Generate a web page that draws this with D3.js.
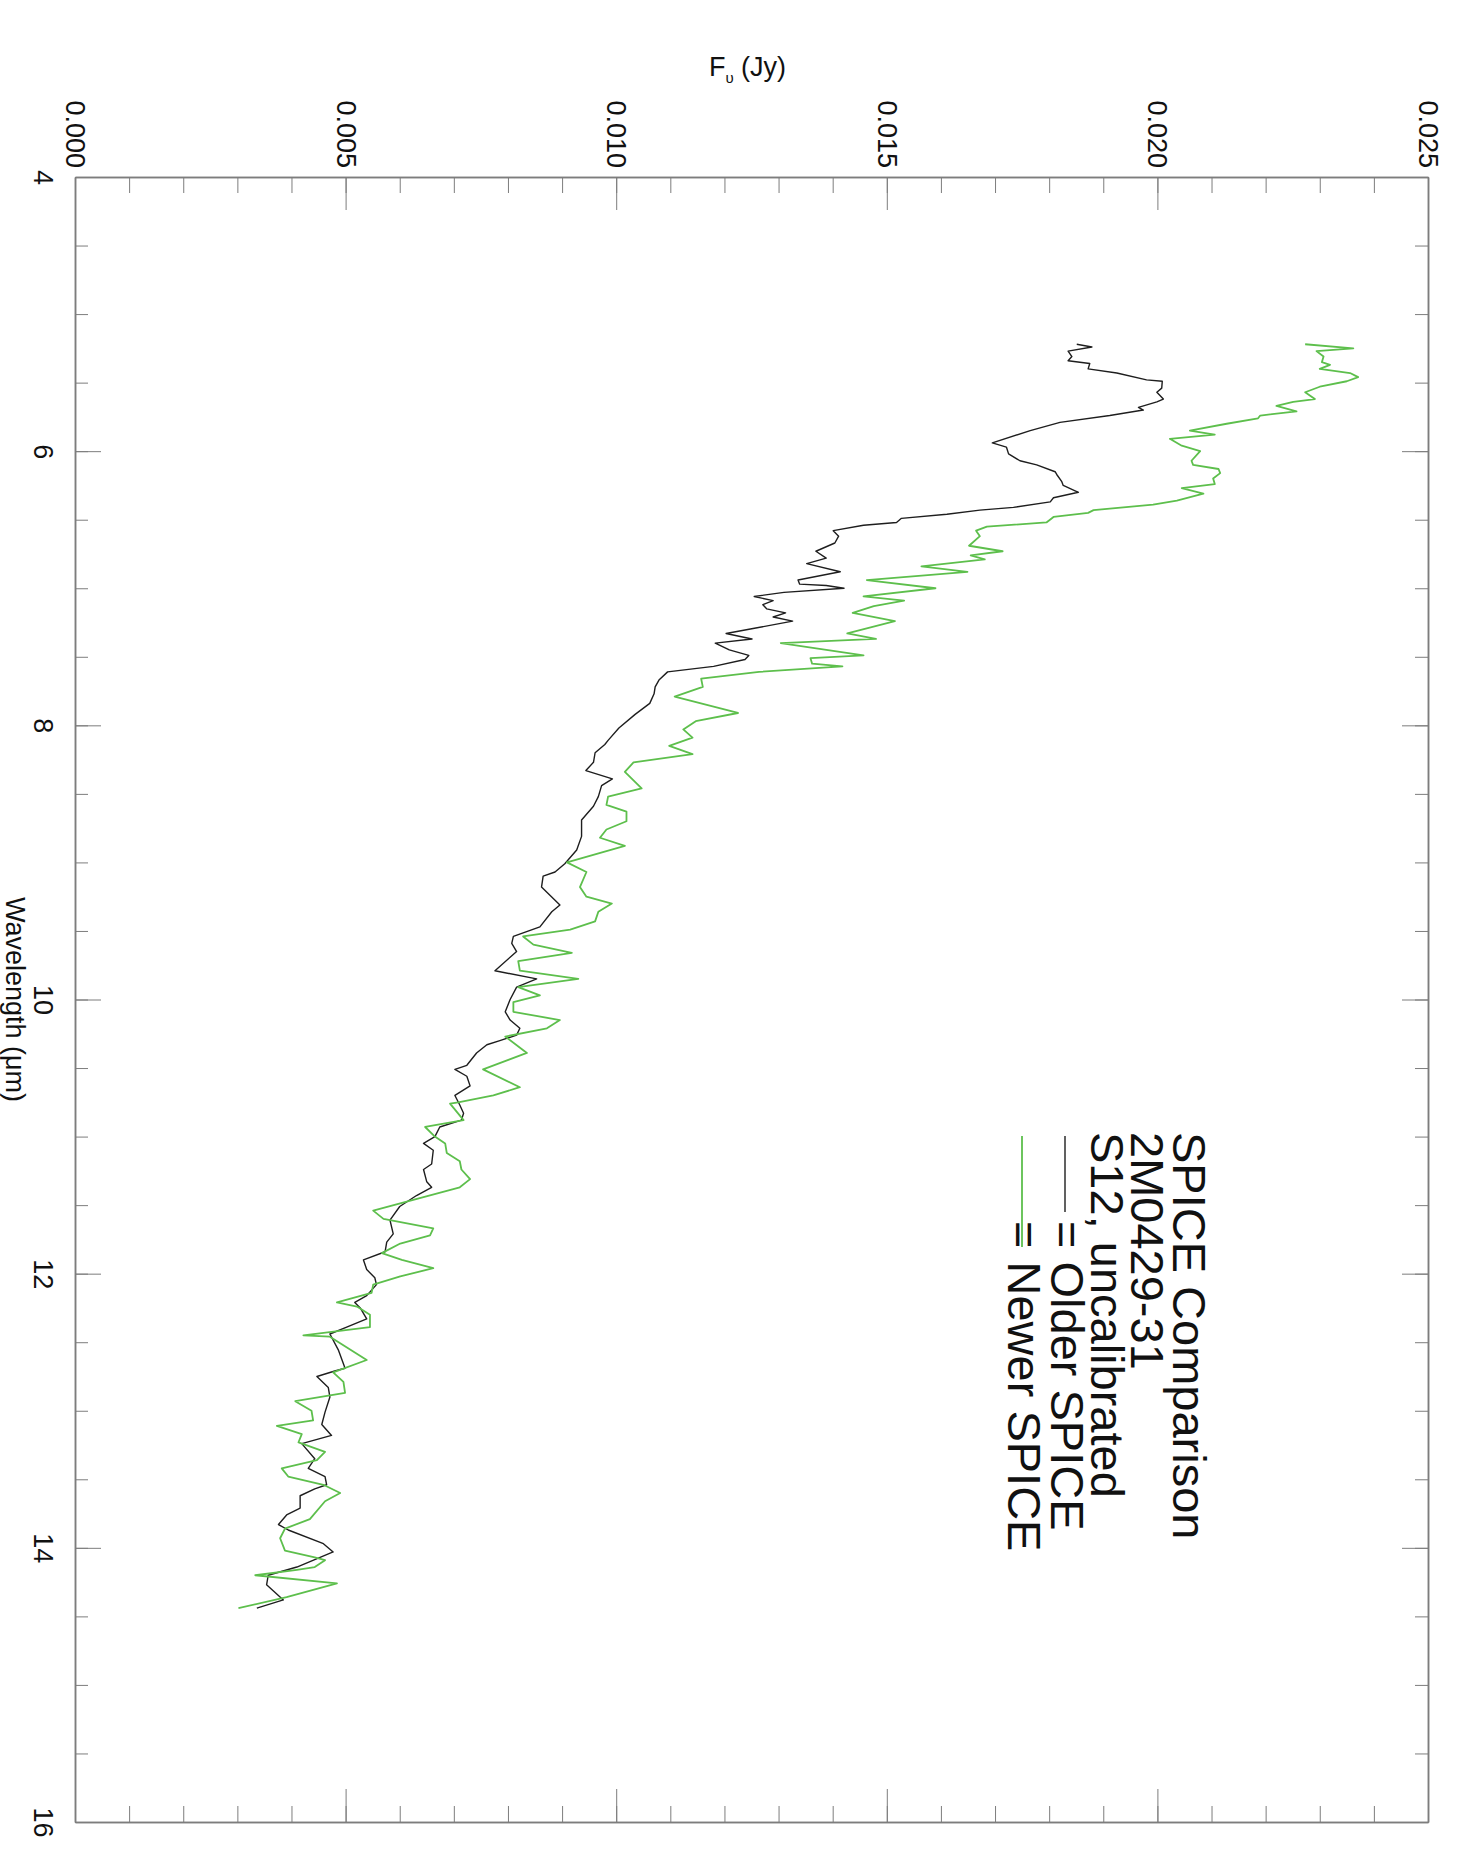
<!DOCTYPE html>
<html>
<head>
<meta charset="utf-8">
<script src="https://cdn.jsdelivr.net/npm/d3@7"></script>
<style>
body { margin: 0; background: #fff; }
text { font-family: "Liberation Sans", Arial, Helvetica, sans-serif; fill: #111; }
</style>
</head>
<body>
<div id="chart"></div>
<script>
const width = 1465, height = 1861;
const plot = {left: 75, right: 1428, top: 177, bottom: 1822};

// axis ticks and titles
const fluxTicks = [0.000, 0.005, 0.010, 0.015, 0.020, 0.025];
const waveTicks = [4, 6, 8, 10, 12, 14, 16];
const fluxTitle = ['F', '\u03c5', ' (Jy)'];
const waveTitle = 'Wavelength (\u03bcm)';
const legendLines = ['SPICE Comparison', '2M0429-31', 'S12, uncalibrated'];
const seriesNames = ['Older SPICE', 'Newer SPICE'];

// [wavelength um, flux Jy]
const olderSpice = [
    [5.22, 0.01851], [5.24, 0.01879], [5.27, 0.01835], [5.31, 0.01842], [5.34, 0.01835],
    [5.36, 0.01875], [5.40, 0.01872], [5.43, 0.01925], [5.48, 0.01980], [5.49, 0.02009],
    [5.54, 0.02008], [5.57, 0.01999], [5.62, 0.02011], [5.64, 0.01999], [5.68, 0.01965],
    [5.70, 0.01974], [5.74, 0.01912], [5.79, 0.01820], [5.85, 0.01765], [5.94, 0.01695],
    [5.97, 0.01721], [6.02, 0.01725], [6.07, 0.01746], [6.10, 0.01777], [6.15, 0.01811],
    [6.17, 0.01814], [6.22, 0.01823], [6.25, 0.01826], [6.30, 0.01854], [6.34, 0.01808],
    [6.37, 0.01802], [6.41, 0.01734], [6.43, 0.01672], [6.46, 0.01611], [6.49, 0.01527],
    [6.52, 0.01518], [6.54, 0.01457], [6.58, 0.01401], [6.62, 0.01411], [6.67, 0.01404],
    [6.73, 0.01369], [6.78, 0.01388], [6.82, 0.01352], [6.88, 0.01414], [6.94, 0.01336],
    [6.97, 0.01339], [6.98, 0.01388], [7.00, 0.01421], [7.03, 0.01310], [7.06, 0.01255],
    [7.09, 0.01290], [7.12, 0.01271], [7.15, 0.01278], [7.18, 0.01313], [7.21, 0.01290],
    [7.24, 0.01326], [7.29, 0.01258], [7.33, 0.01203], [7.37, 0.01251], [7.40, 0.01183],
    [7.45, 0.01209], [7.49, 0.01245], [7.52, 0.01238], [7.57, 0.01180], [7.61, 0.01095],
    [7.67, 0.01079], [7.72, 0.01072], [7.77, 0.01070], [7.84, 0.01062], [7.92, 0.01035],
    [8.02, 0.01005], [8.11, 0.00985], [8.14, 0.00979], [8.20, 0.00961], [8.27, 0.00958],
    [8.33, 0.00944], [8.39, 0.00993], [8.44, 0.00973], [8.52, 0.00967], [8.59, 0.00958],
    [8.69, 0.00936], [8.81, 0.00936], [8.91, 0.00927], [9.01, 0.00905], [9.07, 0.00887],
    [9.10, 0.00865], [9.18, 0.00862], [9.31, 0.00896], [9.36, 0.00881], [9.47, 0.00859],
    [9.54, 0.00810], [9.59, 0.00807], [9.65, 0.00816], [9.79, 0.00776], [9.85, 0.00853],
    [9.91, 0.00816], [10.00, 0.00804], [10.09, 0.00795], [10.15, 0.00804], [10.21, 0.00822],
    [10.26, 0.00816], [10.30, 0.00785], [10.33, 0.00761], [10.39, 0.00742], [10.48, 0.00724],
    [10.51, 0.00702], [10.56, 0.00724], [10.63, 0.00730], [10.70, 0.00702], [10.77, 0.00711],
    [10.83, 0.00718], [10.88, 0.00714], [10.93, 0.00674], [11.00, 0.00665], [11.05, 0.00644],
    [11.10, 0.00662], [11.20, 0.00659], [11.24, 0.00644], [11.33, 0.00650], [11.37, 0.00659],
    [11.43, 0.00631], [11.51, 0.00600], [11.61, 0.00582], [11.71, 0.00588], [11.77, 0.00576],
    [11.84, 0.00573], [11.90, 0.00533], [11.97, 0.00539], [12.03, 0.00554], [12.08, 0.00557],
    [12.16, 0.00539], [12.21, 0.00517], [12.25, 0.00527], [12.33, 0.00539], [12.39, 0.00502],
    [12.44, 0.00471], [12.56, 0.00487], [12.69, 0.00499], [12.71, 0.00480], [12.75, 0.00447],
    [12.83, 0.00468], [12.90, 0.00471], [13.01, 0.00462], [13.10, 0.00456], [13.18, 0.00474],
    [13.24, 0.00419], [13.35, 0.00443], [13.42, 0.00431], [13.48, 0.00462], [13.54, 0.00465],
    [13.57, 0.00443], [13.62, 0.00416], [13.71, 0.00416], [13.76, 0.00391], [13.83, 0.00376],
    [13.87, 0.00394], [13.97, 0.00459], [14.03, 0.00477], [14.14, 0.00410], [14.20, 0.00357],
    [14.27, 0.00354], [14.38, 0.00385], [14.44, 0.00336]
];

const newerSpice = [
    [5.22, 0.02273], [5.25, 0.02362], [5.27, 0.02294], [5.31, 0.02307], [5.35, 0.02304],
    [5.37, 0.02319], [5.40, 0.02300], [5.43, 0.02356], [5.46, 0.02371], [5.49, 0.02350],
    [5.53, 0.02300], [5.57, 0.02273], [5.62, 0.02291], [5.64, 0.02251], [5.67, 0.02220],
    [5.71, 0.02257], [5.74, 0.02190], [5.76, 0.02186], [5.80, 0.02128], [5.85, 0.02060],
    [5.88, 0.02106], [5.91, 0.02023], [5.96, 0.02045], [6.00, 0.02079], [6.07, 0.02063],
    [6.10, 0.02066], [6.13, 0.02113], [6.16, 0.02116], [6.20, 0.02103], [6.24, 0.02106],
    [6.27, 0.02045], [6.31, 0.02085], [6.36, 0.02036], [6.39, 0.01992], [6.43, 0.01882],
    [6.45, 0.01872], [6.48, 0.01808], [6.52, 0.01795], [6.55, 0.01685], [6.58, 0.01665],
    [6.62, 0.01672], [6.69, 0.01652], [6.73, 0.01714], [6.76, 0.01655], [6.79, 0.01681],
    [6.84, 0.01564], [6.88, 0.01649], [6.94, 0.01463], [7.00, 0.01590], [7.06, 0.01457],
    [7.09, 0.01532], [7.13, 0.01476], [7.18, 0.01437], [7.24, 0.01515], [7.33, 0.01427],
    [7.37, 0.01480], [7.40, 0.01304], [7.49, 0.01457], [7.51, 0.01359], [7.55, 0.01362],
    [7.57, 0.01418], [7.61, 0.01264], [7.66, 0.01157], [7.72, 0.01160], [7.79, 0.01108],
    [7.91, 0.01225], [7.97, 0.01147], [8.03, 0.01124], [8.09, 0.01141], [8.15, 0.01098],
    [8.21, 0.01141], [8.27, 0.01032], [8.34, 0.01016], [8.46, 0.01047], [8.52, 0.00985],
    [8.58, 0.00982], [8.63, 0.01019], [8.70, 0.01019], [8.76, 0.00982], [8.82, 0.00970],
    [8.88, 0.01016], [9.00, 0.00909], [9.07, 0.00945], [9.18, 0.00933], [9.25, 0.00945],
    [9.30, 0.00992], [9.36, 0.00967], [9.43, 0.00961], [9.49, 0.00915], [9.54, 0.00828],
    [9.60, 0.00847], [9.66, 0.00918], [9.72, 0.00819], [9.79, 0.00822], [9.85, 0.00930],
    [9.91, 0.00819], [9.97, 0.00859], [10.02, 0.00810], [10.09, 0.00810], [10.15, 0.00896],
    [10.21, 0.00872], [10.27, 0.00795], [10.39, 0.00835], [10.51, 0.00754], [10.64, 0.00822],
    [10.70, 0.00773], [10.75, 0.00708], [10.76, 0.00693], [10.88, 0.00718], [10.93, 0.00647],
    [11.00, 0.00665], [11.05, 0.00684], [11.12, 0.00687], [11.18, 0.00711], [11.24, 0.00714],
    [11.31, 0.00730], [11.37, 0.00711], [11.54, 0.00551], [11.60, 0.00570], [11.67, 0.00662],
    [11.72, 0.00656], [11.78, 0.00601], [11.85, 0.00567], [11.90, 0.00604], [11.96, 0.00662],
    [12.02, 0.00601], [12.08, 0.00551], [12.14, 0.00548], [12.21, 0.00484], [12.24, 0.00521],
    [12.30, 0.00545], [12.39, 0.00545], [12.45, 0.00422], [12.46, 0.00471], [12.63, 0.00539],
    [12.72, 0.00477], [12.79, 0.00496], [12.87, 0.00499], [12.93, 0.00407], [13.00, 0.00437],
    [13.07, 0.00440], [13.11, 0.00373], [13.17, 0.00419], [13.23, 0.00413], [13.30, 0.00462],
    [13.36, 0.00447], [13.42, 0.00382], [13.48, 0.00394], [13.54, 0.00459], [13.60, 0.00490],
    [13.66, 0.00462], [13.79, 0.00434], [13.86, 0.00388], [13.93, 0.00379], [14.02, 0.00388],
    [14.07, 0.00443], [14.09, 0.00462], [14.14, 0.00443], [14.16, 0.00410], [14.20, 0.00333],
    [14.26, 0.00484], [14.36, 0.00391], [14.44, 0.00302]
];

const axisColor = '#7d7d7d';
const olderColor = '#1e1e1e';
const newerColor = '#5dbf4c';

let svg;
const x = d3.scaleLinear().domain([0, 0.025]).range([plot.left, plot.right]);
const y = d3.scaleLinear().domain([4, 16]).range([plot.top, plot.bottom]);

function setupChart() {
    svg = d3.select('#chart').append('svg')
        .attr('width', width)
        .attr('height', height);
    svg.append('rect')
        .attr('width', width)
        .attr('height', height)
        .attr('fill', '#fff');
}

function styleAxis(g) {
    g.attr('font-size', 27).attr('color', axisColor);
    g.select('.domain').attr('stroke-width', 1.5);
    g.selectAll('.tick line').attr('stroke-width', 1);
    g.selectAll('.tick text').attr('fill', '#111');
}

function drawAxes() {
    const fluxMinor = d3.range(0, 0.0251, 0.001);
    const waveMinor = d3.range(4, 16.01, 0.5);

    // flux axis, top (labelled) and bottom
    svg.append('g')
        .attr('transform', 'translate(0,' + plot.top + ')')
        .call(d3.axisTop(x).tickValues(fluxMinor).tickSize(-16).tickSizeOuter(0).tickFormat(''))
        .call(styleAxis);
    let top = svg.append('g')
        .attr('transform', 'translate(0,' + plot.top + ')')
        .call(d3.axisTop(x).tickValues(fluxTicks).tickSize(-33).tickSizeOuter(0).tickFormat(d3.format('.3f')))
        .call(styleAxis);
    top.selectAll('.tick text')
        .attr('y', null)
        .attr('dy', '0.35em')
        .attr('text-anchor', 'end')
        .attr('transform', 'translate(0,-9) rotate(90)');
    svg.append('g')
        .attr('transform', 'translate(0,' + plot.bottom + ')')
        .call(d3.axisBottom(x).tickValues(fluxMinor).tickSize(-16).tickSizeOuter(0).tickFormat(''))
        .call(styleAxis);
    svg.append('g')
        .attr('transform', 'translate(0,' + plot.bottom + ')')
        .call(d3.axisBottom(x).tickValues(fluxTicks).tickSize(-33).tickSizeOuter(0).tickFormat(''))
        .call(styleAxis);

    // wavelength axis, left (labelled) and right
    svg.append('g')
        .attr('transform', 'translate(' + plot.left + ',0)')
        .call(d3.axisLeft(y).tickValues(waveMinor).tickSize(-13).tickSizeOuter(0).tickFormat(''))
        .call(styleAxis);
    let left = svg.append('g')
        .attr('transform', 'translate(' + plot.left + ',0)')
        .call(d3.axisLeft(y).tickValues(waveTicks).tickSize(-26).tickSizeOuter(0).tickFormat(d3.format('d')))
        .call(styleAxis);
    left.selectAll('.tick text')
        .attr('x', null)
        .attr('dy', '0.35em')
        .attr('text-anchor', 'middle')
        .attr('transform', 'translate(-32,0) rotate(90)');
    svg.append('g')
        .attr('transform', 'translate(' + plot.right + ',0)')
        .call(d3.axisRight(y).tickValues(waveMinor).tickSize(-13).tickSizeOuter(0).tickFormat(''))
        .call(styleAxis);
    svg.append('g')
        .attr('transform', 'translate(' + plot.right + ',0)')
        .call(d3.axisRight(y).tickValues(waveTicks).tickSize(-26).tickSizeOuter(0).tickFormat(''))
        .call(styleAxis);

    // titles
    let ft = svg.append('text')
        .attr('x', (plot.left + plot.right) / 2 - 4)
        .attr('y', 76)
        .attr('font-size', 27)
        .attr('text-anchor', 'middle');
    ft.append('tspan').text(fluxTitle[0]);
    ft.append('tspan').attr('font-size', 15).attr('dy', 7).text(fluxTitle[1]);
    ft.append('tspan').attr('dy', -7).text(fluxTitle[2]);

    svg.append('text')
        .attr('transform', 'translate(15,' + ((plot.top + plot.bottom) / 2) + ') rotate(90)')
        .attr('font-size', 27)
        .attr('text-anchor', 'middle')
        .attr('dy', '0.35em')
        .text(waveTitle);
}

function drawSeries() {
    const line = d3.line()
        .x(d => x(d[1]))
        .y(d => y(d[0]));
    svg.append('path')
        .datum(olderSpice)
        .attr('d', line)
        .attr('fill', 'none')
        .attr('stroke', olderColor)
        .attr('stroke-width', 1.4)
        .attr('stroke-linejoin', 'round');
    svg.append('path')
        .datum(newerSpice)
        .attr('d', line)
        .attr('fill', 'none')
        .attr('stroke', newerColor)
        .attr('stroke-width', 1.8)
        .attr('stroke-linejoin', 'round');
}

function drawLegend() {
    const top = 1132;
    const fontSize = 47;
    const baselines = [1173, 1131, 1091];
    legendLines.forEach((t, i) => {
        svg.append('text')
            .attr('transform', 'translate(' + baselines[i] + ',' + top + ') rotate(90)')
            .attr('font-size', fontSize)
            .text(t);
    });

    const keys = [
        {name: seriesNames[0], color: olderColor, width: 1.4, base: 1051, lineX: 1065, lineEnd: 1212},
        {name: seriesNames[1], color: newerColor, width: 1.8, base: 1008, lineX: 1022, lineEnd: 1247}
    ];
    keys.forEach(k => {
        svg.append('text')
            .attr('transform', 'translate(' + k.base + ',' + 1221 + ') rotate(90)')
            .attr('font-size', fontSize)
            .text('= ' + k.name);
        svg.append('line')
            .attr('x1', k.lineX).attr('x2', k.lineX)
            .attr('y1', top + 4).attr('y2', k.lineEnd)
            .attr('stroke', k.color)
            .attr('stroke-width', k.width);
    });
}

setupChart();
drawAxes();
drawSeries();
drawLegend();
</script>
</body>
</html>
